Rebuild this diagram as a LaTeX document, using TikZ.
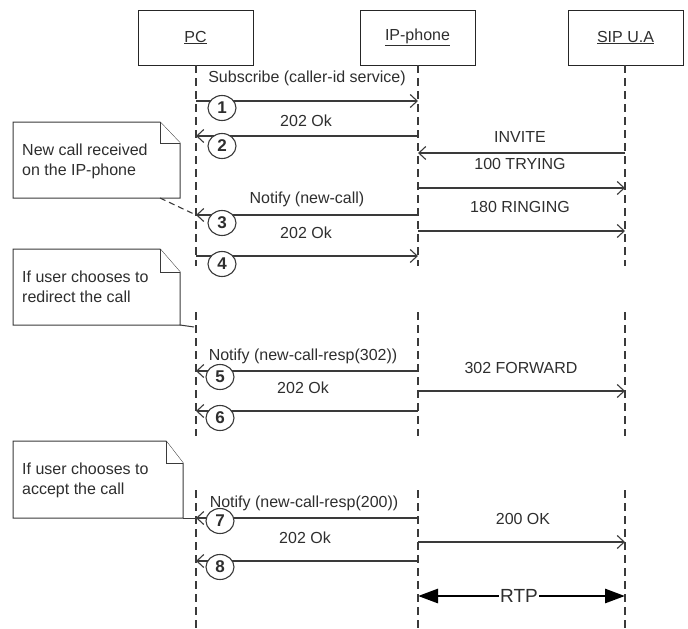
\documentclass[tikz,border=0pt]{standalone}
\usepackage{fontspec}
\setmainfont{Liberation Sans}
\usetikzlibrary{arrows.meta,shapes.geometric}
\definecolor{ink}{HTML}{2E2E2E}
\definecolor{linec}{HTML}{3A3A3A}
\tikzset{
  actor/.style={draw=black!85, line width=0.9pt, minimum width=115pt, minimum height=55pt, inner sep=0pt, text=ink, font=\fontsize{16}{18}\selectfont},
  life/.style={draw=linec, line width=1.2pt, dash pattern=on 8pt off 5pt},
  msg/.style={draw=linec, line width=1.3pt, -{Straight Barb[length=7pt,width=13pt,line width=1.1pt]}},
  lbl/.style={text=ink, font=\fontsize{16}{18}\selectfont, inner sep=0pt},
  num/.style={ellipse, draw=linec, fill=white, line width=1.1pt, minimum width=28pt, minimum height=25pt, inner sep=0pt, font=\bfseries\fontsize{17}{19}\selectfont, text=ink},
  notetxt/.style={text=ink, font=\fontsize{16}{20}\selectfont, align=left, anchor=north west, inner sep=0pt},
  notebox/.style={draw=linec, line width=1pt, fill=white},
  noteline/.style={draw=linec, line width=1.1pt, dash pattern=on 6pt off 4pt},
  rtpline/.style={draw=black, line width=2.8pt, {Triangle[length=20pt,width=14pt]}-{Triangle[length=20pt,width=14pt]}},
}
\begin{document}
\begin{tikzpicture}[x=1pt,y=-1pt]
\useasboundingbox (0,0) rectangle (688,629);
% actors
\node[actor] (pc)  at (195.5,37.5) {\underline{PC}};
\node[actor] (ip)  at (417.5,37.5) {\underline{IP-phone}};
\node[actor] (sip) at (625.5,37.5) {\underline{SIP U.A}};
% lifeline coordinates
\coordinate (pcA) at (196,65);  \coordinate (pcB) at (196,266);
\coordinate (pcC) at (196,312); \coordinate (pcD) at (196,436);
\coordinate (pcE) at (196,490); \coordinate (pcF) at (196,629);
\coordinate (ipA) at (418,65);  \coordinate (ipB) at (418,266);
\coordinate (ipC) at (418,312); \coordinate (ipD) at (418,436);
\coordinate (ipE) at (418,490); \coordinate (ipF) at (418,629);
\coordinate (sipA) at (625,65);  \coordinate (sipB) at (625,266);
\coordinate (sipC) at (625,312); \coordinate (sipD) at (625,436);
\coordinate (sipE) at (625,490); \coordinate (sipF) at (625,629);
\foreach \a in {pc,ip,sip}{
  \draw[life] (\a A) -- (\a B);
  \draw[life] (\a C) -- (\a D);
  \draw[life] (\a E) -- (\a F);
}
% message end points
\foreach \n/\y in {ma/101,mb/136,mc/153,md/188,me/215,mf/231,mg/256,mh/371,mi/391,mj/411,mk/518,ml/542,mm/561,mn/596}{
  \coordinate (\n pc) at (196,\y);
  \coordinate (\n ip) at (418,\y);
  \coordinate (\n sip) at (625,\y);
}
% messages
\draw[msg] (mapc) -- (maip);
\draw[msg] (mbip) -- (mbpc);
\draw[msg] (mcsip) -- (mcip);
\draw[msg] (mdip) -- (mdsip);
\draw[msg] (meip) -- (mepc);
\draw[msg] (mfip) -- (mfsip);
\draw[msg] (mgpc) -- (mgip);
\draw[msg] (mhip) -- (mhpc);
\draw[msg] (miip) -- (misip);
\draw[msg] (mjip) -- (mjpc);
\draw[msg] (mkip) -- (mkpc);
\draw[msg] (mlip) -- (mlsip);
\draw[msg] (mmip) -- (mmpc);
\draw[rtpline] (mnip) -- (mnsip);
\node[lbl, fill=white, inner sep=1.5pt, font=\fontsize{19}{21}\selectfont] (rtp) at (519,596) {RTP};
% labels
\node[lbl] (l1) at (307,78) {Subscribe (caller-id service)};
\node[lbl] (l2) at (306,121) {202 Ok};
\node[lbl] (l3) at (520,137) {INVITE};
\node[lbl] (l4) at (520,164) {100 TRYING};
\node[lbl] (l5) at (307,199) {Notify (new-call)};
\node[lbl] (l6) at (520,207) {180 RINGING};
\node[lbl] (l7) at (306,233) {202 Ok};
\node[lbl] (l8) at (303,356) {Notify (new-call-resp(302))};
\node[lbl] (l9) at (521,368) {302 FORWARD};
\node[lbl] (l10) at (303,388) {202 Ok};
\node[lbl] (l11) at (304,503) {Notify (new-call-resp(200))};
\node[lbl] (l12) at (523,519) {200 OK};
\node[lbl] (l13) at (305,538) {202 Ok};
% numbered circles
\node[num] (c1) at (222,108) {1};
\node[num] (c2) at (222,146) {2};
\node[num] (c3) at (222,223) {3};
\node[num] (c4) at (222,264) {4};
\node[num] (c5) at (220,377) {5};
\node[num] (c6) at (220,418) {6};
\node[num] (c7) at (220,521) {7};
\node[num] (c8) at (220,567) {8};
% notes
\draw[notebox] (13,122) -- (160,122) -- (180,143) -- (180,198) -- (13,198) -- cycle;
\draw[notebox] (160,122) -- (160,143) -- (180,143);
\node[notetxt] (n1) at (22,143.5) {New call received\\on the IP-phone};
\coordinate (n1c) at (160,198);
\draw[noteline] (n1c) -- (mepc);

\draw[notebox] (13,249) -- (160,249) -- (180,272) -- (180,325) -- (13,325) -- cycle;
\draw[notebox] (160,249) -- (160,272) -- (180,272);
\node[notetxt] (n2) at (22,270.5) {If user chooses to\\redirect the call};
\coordinate (n2c) at (180,325);
\coordinate (n2e) at (194,327);
\draw[draw=linec, line width=1pt] (n2c) -- (n2e);

\draw[notebox] (13,441) -- (166,441) -- (183,463) -- (183,518) -- (13,518) -- cycle;
\draw[notebox] (166,441) -- (166,463) -- (183,463);
\node[notetxt] (n3) at (22,462.5) {If user chooses to\\accept the call};
\coordinate (n3c) at (183,518);
\draw[draw=linec, line width=1pt] (n3c) -- (mkpc);
\end{tikzpicture}
\end{document}
